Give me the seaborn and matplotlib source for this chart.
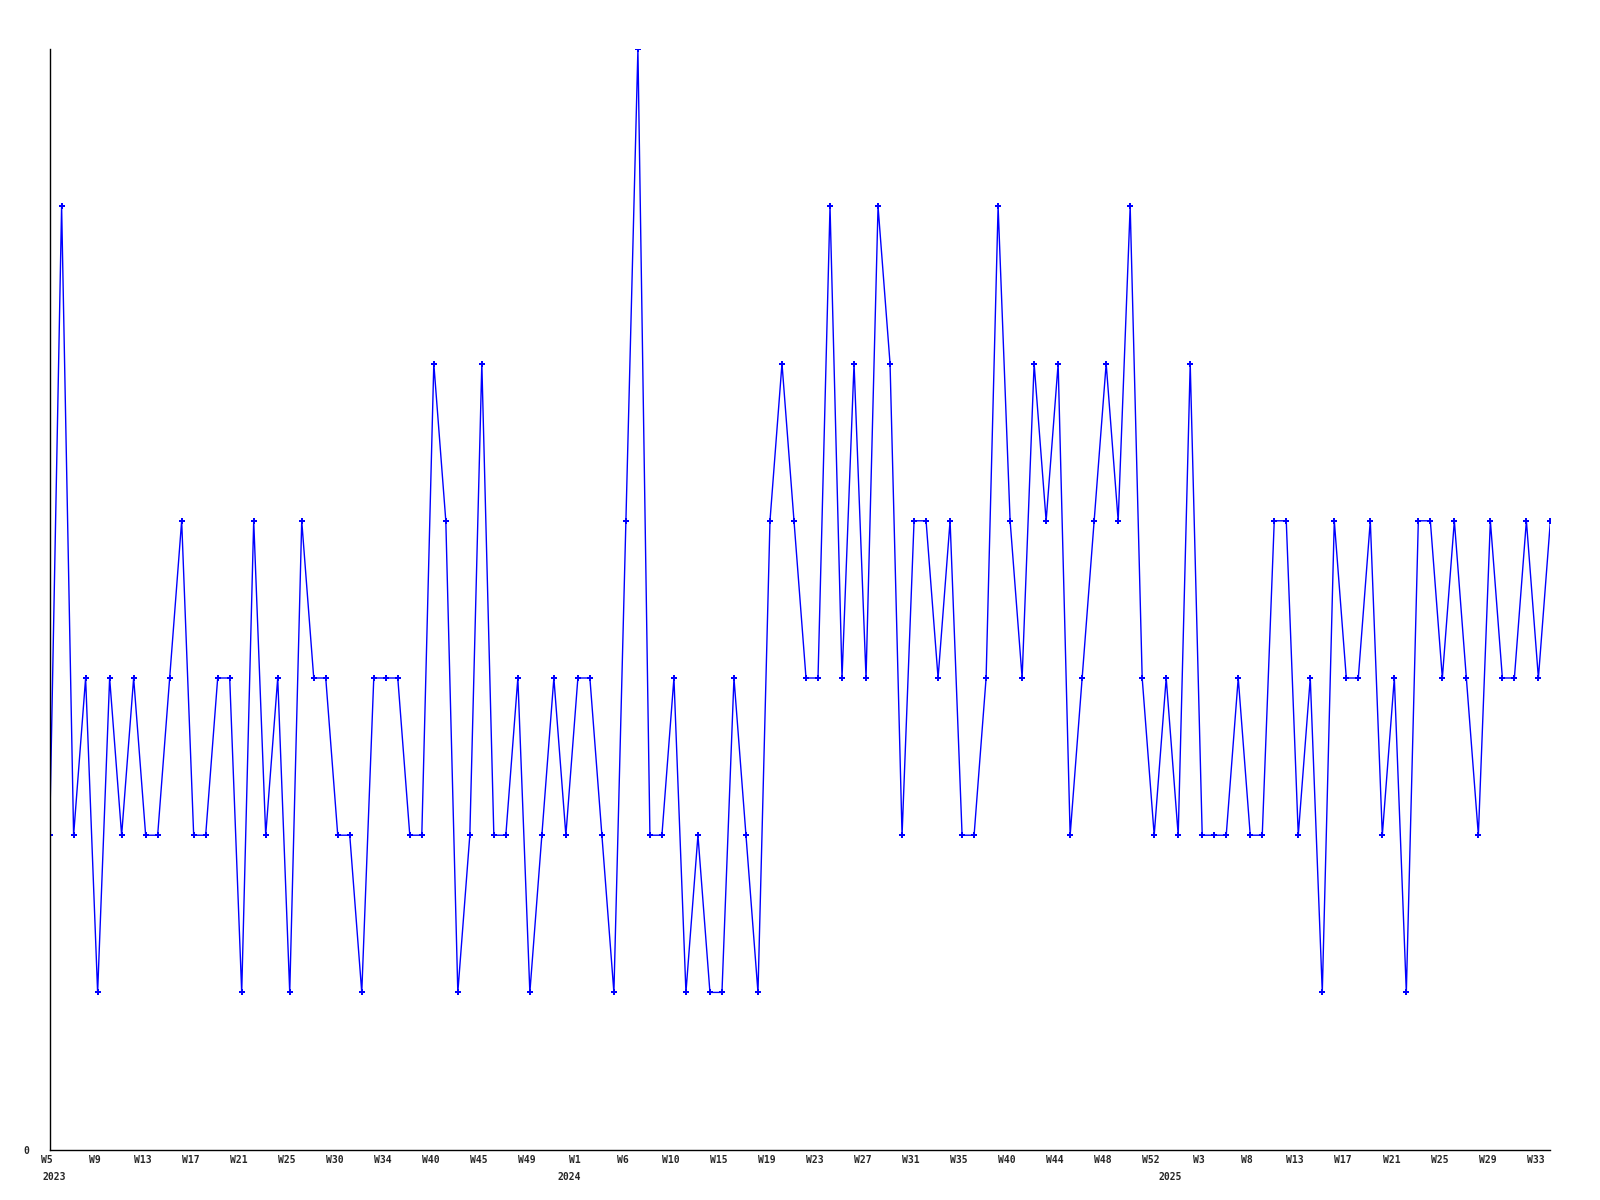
import numpy as np
import pandas as pd
import matplotlib
matplotlib.use("Agg")
import matplotlib.pyplot as plt
import matplotlib.transforms as mtransforms
import seaborn as sns

# valeurs hebdomadaires
valeurs = [
    2, 6, 2, 3, 1, 3, 2, 3, 2, 2, 3, 4, 2, 2, 3, 3, 1, 4, 2, 3,
    1, 4, 3, 3, 2, 2, 1, 3, 3, 3, 2, 2, 5, 4, 1, 2, 5, 2, 2, 3,
    1, 2, 3, 2, 3, 3, 2, 1, 4, 7, 2, 2, 3, 1, 2, 1, 1, 3, 2, 1,
    4, 5, 4, 3, 3, 6, 3, 5, 3, 6, 5, 2, 4, 4, 3, 4, 2, 2, 3, 6,
    4, 3, 5, 4, 5, 2, 3, 4, 5, 4, 6, 3, 2, 3, 2, 5, 2, 2, 2, 3,
    2, 2, 4, 4, 2, 3, 1, 4, 3, 3, 4, 2, 3, 1, 4, 4, 3, 4, 3, 2,
    4, 3, 3, 4, 3, 4,
]

etiquettes_semaines = [
    "W5", "W9", "W13", "W17", "W21", "W25", "W30", "W34", "W40", "W45", "W49",
    "W1", "W6", "W10", "W15", "W19", "W23", "W27", "W31", "W35", "W40", "W44",
    "W48", "W52", "W3", "W8", "W13", "W17", "W21", "W25", "W29", "W33",
]
annees = ["2023", "2024", "2025"]
position_annees = [0.4, 43.3, 93.3]

df = pd.DataFrame({"idx": np.arange(len(valeurs)), "val": valeurs})

sns.set_style("white")
police = ["DejaVu Sans Mono"]

fig = plt.figure(figsize=(16, 12), dpi=100)
ax = fig.add_axes([0.031, 0.042, 0.938, 0.917])

sns.lineplot(data=df, x="idx", y="val", ax=ax, color="#0000ff", linewidth=1,
             marker="P", markersize=4, markeredgewidth=0)

ax.set_xticks(np.arange(0, 4 * len(etiquettes_semaines), 4))
ax.set_xticklabels(etiquettes_semaines, family=police, fontsize=7, fontweight="bold")
ax.set_yticks([0])
ax.set_yticklabels(["0"], family=police, fontsize=7, fontweight="bold")
ax.set_xlim(0, len(valeurs) - 1)
ax.set_ylim(0, 7)
ax.set_xlabel("")
ax.set_ylabel("")
ax.tick_params(axis="both", length=0)
ax.tick_params(axis="x", pad=4)
ax.tick_params(axis="y", pad=15)

# decaler un peu les etiquettes vers la gauche
decalage = mtransforms.ScaledTranslation(-3 / 100, 0, fig.dpi_scale_trans)
for lab in ax.get_xticklabels():
    lab.set_transform(lab.get_transform() + decalage)

for s in ["top", "right"]:
    ax.spines[s].set_visible(False)
for s in ["left", "bottom"]:
    ax.spines[s].set_color("black")
    ax.spines[s].set_linewidth(1)

trans = mtransforms.blended_transform_factory(ax.transData, ax.transAxes)
for x, a in zip(position_annees, annees):
    ax.text(x, -0.020, a, transform=trans, ha="center", va="top",
            family=police, fontsize=7, fontweight="bold")

fig.savefig("out.png", dpi=100)
